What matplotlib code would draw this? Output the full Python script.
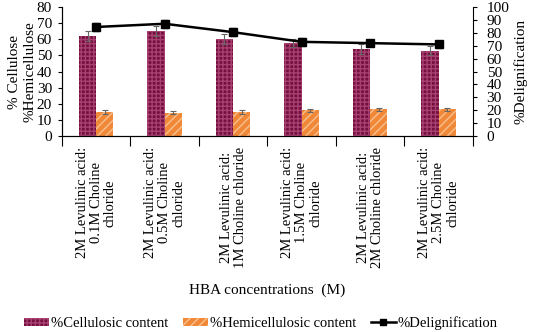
import numpy as np
import matplotlib.pyplot as plt
from matplotlib.lines import Line2D

plt.rcParams['font.family'] = ['Liberation Serif', 'DejaVu Serif']
plt.rcParams['hatch.linewidth'] = 1.0

labels = ["2M Levulinic acid:\n0.1M Choline\nchloride",
          "2M Levulinic acid:\n0.5M Choline\nchloride",
          "2M Levulinic acid:\n1M Choline chloride",
          "2M Levulinic acid:\n1.5M Choline\nchloride",
          "2M Levulinic acid:\n2M Choline chloride",
          "2M Levulinic acid:\n2.5M Choline\nchloride"]
cellulose = [62, 65, 60, 57.5, 54, 53]
cellulose_err = [3, 3, 3, 2.5, 3, 3]
hemi = [15, 14.5, 15, 16, 16.5, 16.5]
hemi_err = [1, 1, 1, 1, 1, 1]
delig = [84.5, 87, 80.5, 73, 72, 71]
delig_err = [3, 3, 3, 3, 2, 3]

x = np.arange(len(labels))
w = 0.25

fig = plt.figure(figsize=(5.33, 3.32), dpi=100)
ax = fig.add_axes([0.116, 0.59, 0.771, 0.389])
ax2 = ax.twinx()

ax.bar(x - w / 2, cellulose, w, color='#741040', edgecolor='#a84070', hatch='++++', linewidth=0,
       yerr=cellulose_err, error_kw=dict(ecolor='#666666', capsize=2, elinewidth=0.8, capthick=0.8),
       label='%Cellulosic content')
ax.bar(x + w / 2, hemi, w, color='#f08838', edgecolor='#f8c090', hatch='////', linewidth=0,
       yerr=hemi_err, error_kw=dict(ecolor='#666666', capsize=2, elinewidth=0.8, capthick=0.8),
       label='%Hemicellulosic content')
ax2.errorbar(x, delig, yerr=delig_err, color='black', marker='s', markersize=6, linewidth=1.8,
             ecolor='#666666', elinewidth=0.8, capsize=2)

ax.set_xlim(-0.5, len(labels) - 0.5)
ax.set_ylim(0, 80)
ax2.set_ylim(0, 100)
ax.set_yticks(np.arange(0, 81, 10))
ax2.set_yticks(np.arange(0, 101, 10))

ax.set_xticks(x)
ax.set_xticklabels(labels, rotation=90, fontsize=10.5, linespacing=1.1, ha='center', va='top',
                   multialignment='center')
ax.set_xticks(np.arange(-0.5, len(labels), 1), minor=True)
ax.tick_params(axis='x', which='major', length=0, pad=8)
ax.tick_params(axis='x', which='minor', length=7, width=0.8)
ax.tick_params(axis='y', labelsize=11, length=3, pad=4)
ax2.tick_params(axis='y', labelsize=11, length=3, pad=7)

for a in (ax, ax2):
    a.spines['top'].set_visible(False)
ax.spines['right'].set_visible(False)

ax.set_ylabel('% Cellulose\n%Hemicellulose', fontsize=11, linespacing=1.3, labelpad=0)
ax2.set_ylabel('%Delignification', fontsize=11, labelpad=3)
ax.set_xlabel('HBA concentrations  (M)', fontsize=11, labelpad=11)

h1, l1 = ax.get_legend_handles_labels()
h_line = Line2D([], [], color='black', marker='s', markersize=4, linewidth=1.8)
fig.legend(h1 + [h_line], l1 + ['%Delignification'], loc='center', bbox_to_anchor=(0.49, 0.027),
           ncol=3, frameon=False, fontsize=10.5, handlelength=1.7, handleheight=0.5,
           handletextpad=0.15, columnspacing=1.0)

fig.savefig('out.png', dpi=100)
